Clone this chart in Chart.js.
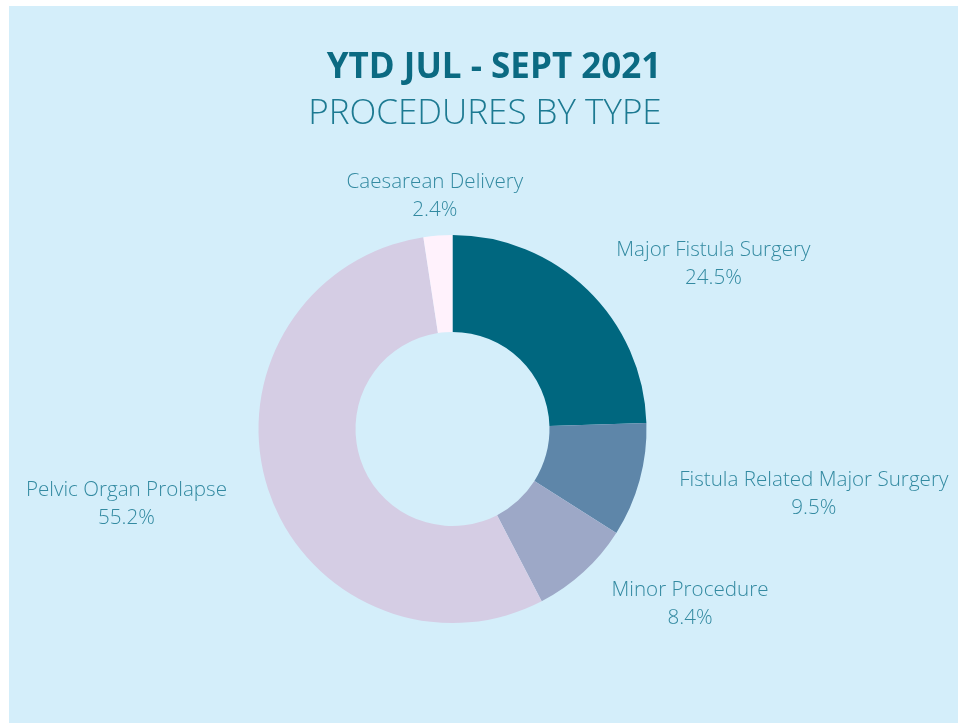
<!DOCTYPE html>
<html>
<head>
<meta charset="utf-8">
<script src="https://cdn.jsdelivr.net/npm/chart.js@4.4.0/dist/chart.umd.min.js"></script>
<style>
  html, body { margin: 0; padding: 0; background: #ffffff; }
  #wrap { position: absolute; left: 9px; top: 6px; width: 949px; height: 717px; background: #d4eefa; }
</style>
</head>
<body>
<div id="wrap"><canvas id="myChart" width="949" height="717"></canvas></div>
<script>
// procedures by type, share of total (%)
var categories = ['Major Fistula Surgery', 'Fistula Related Major Surgery', 'Minor Procedure', 'Pelvic Organ Prolapse', 'Caesarean Delivery'];
var shares = [24.5, 9.5, 8.4, 55.2, 2.4];
var colours = ['#00677f', '#5e86a9', '#9da8c7', '#d5cde4', '#fff2fc'];
var titleText = 'YTD JUL - SEPT 2021';
var subtitleText = 'PROCEDURES BY TYPE';

var labelColour = '#338aa1';

// heading, drawn by hand so it can sit a bit right of the ring
var heading = {
  id: 'heading',
  afterDraw: function(chart) {
    var ctx = chart.ctx;
    ctx.save();
    ctx.textAlign = 'center';
    ctx.textBaseline = 'middle';
    ctx.fillStyle = '#0b6a82';
    ctx.font = 'bold 35px "Open Sans"';
    ctx.fillText(titleText, 485, 62);
    ctx.fillStyle = '#1d7a92';
    ctx.font = '300 35px "Open Sans"';
    ctx.fillText(subtitleText, 476, 108);
    ctx.restore();
  }
};

// draws the category + percentage next to each slice
var sliceLabels = {
  id: 'sliceLabels',
  afterDraw: function(chart) {
    var ctx = chart.ctx;
    var meta = chart.getDatasetMeta(0);
    ctx.save();
    ctx.font = '300 20.6px "Open Sans"';
    ctx.fillStyle = labelColour;
    ctx.textBaseline = 'middle';
    ctx.textAlign = 'center';
    for (i = 0; i < meta.data.length; i++) {
      var arc = meta.data[i];
      var p = arc.getProps(['x', 'y', 'startAngle', 'endAngle', 'outerRadius'], true);
      var mid = (p.startAngle + p.endAngle) / 2;
      var r = p.outerRadius + 40;
      var ax = p.x + Math.cos(mid) * r;
      var ay = p.y + Math.sin(mid) * r;
      var lines = [categories[i], shares[i].toFixed(1) + '%'];
      var w = Math.max(ctx.measureText(lines[0]).width, ctx.measureText(lines[1]).width);
      var lh = 28;
      var cx, cy;
      var c = Math.cos(mid);
      if (Math.abs(c) < 0.2) {
        // top label, sits above the ring
        cx = ax;
        cy = ay;
      } else if (c > 0) {
        cx = ax + w / 2 + 1;
        cy = ay + 3;
      } else {
        cx = ax - w / 2 - 3;
        cy = ay + 3;
      }
      ctx.fillText(lines[0], cx, cy - lh / 2);
      ctx.fillText(lines[1], cx, cy + lh / 2);
    }
    ctx.restore();
  }
};

var ctx = document.getElementById('myChart');
var myChart = new Chart(ctx, {
  type: 'doughnut',
  data: {
    labels: categories,
    datasets: [{
      data: shares,
      backgroundColor: colours,
      borderWidth: 0
    }]
  },
  options: {
    responsive: false,
    animation: false,
    cutout: '50%',
    layout: { padding: { left: 0, right: 62, top: 229, bottom: 100 } },
    plugins: {
      legend: { display: false },
      tooltip: { enabled: false }
    }
  },
  plugins: [heading, sliceLabels]
});
</script>
</body>
</html>
